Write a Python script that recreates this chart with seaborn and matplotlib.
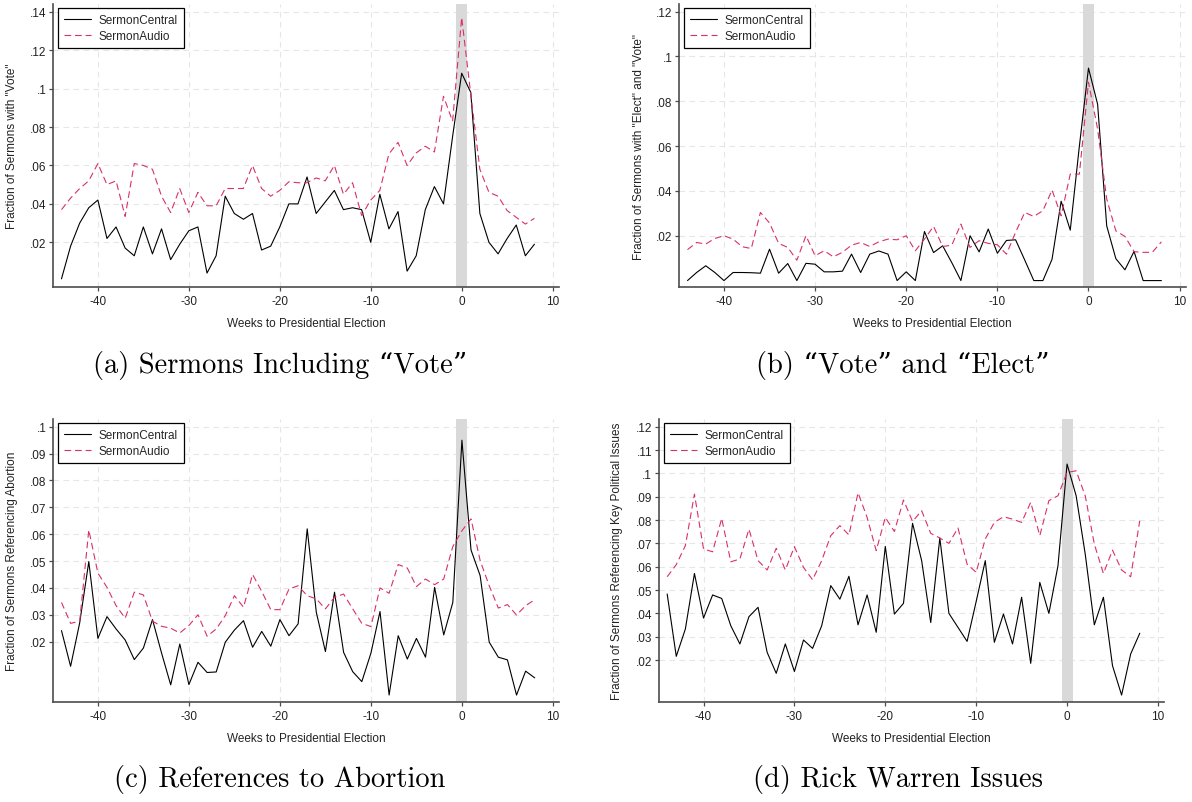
import matplotlib
matplotlib.use("Agg")
import matplotlib.pyplot as plt
import seaborn as sns
import numpy as np
import pandas as pd

# ---------------- data ----------------
weeks = [-44, -43, -42, -41, -40, -39, -38, -37, -36, -35, -34, -33, -32, -31, -30,
         -29, -28, -27, -26, -25, -24, -23, -22, -21, -20, -19, -18, -17, -16, -15,
         -14, -13, -12, -11, -10, -9, -8, -7, -6, -5, -4, -3, -2, -1, 0, 1, 2, 3,
         4, 5, 6, 7, 8]

vote_central = [0.001, 0.018, 0.030, 0.038, 0.042, 0.022, 0.028, 0.017, 0.013, 0.028,
                0.014, 0.027, 0.011, 0.019, 0.026, 0.028, 0.004, 0.013, 0.044, 0.035,
                0.032, 0.035, 0.016, 0.018, 0.028, 0.040, 0.040, 0.054, 0.035, 0.041,
                0.047, 0.037, 0.038, 0.037, 0.020, 0.045, 0.027, 0.036, 0.005, 0.013,
                0.037, 0.049, 0.040, 0.075, 0.108, 0.098, 0.035, 0.020, 0.014, 0.022,
                0.029, 0.013, 0.019]
vote_audio = [0.037, 0.043, 0.048, 0.052, 0.061, 0.050, 0.052, 0.0335, 0.061, 0.060,
              0.058, 0.044, 0.0355, 0.048, 0.0355, 0.046, 0.039, 0.039, 0.048, 0.048,
              0.048, 0.060, 0.048, 0.044, 0.047, 0.0515, 0.051, 0.051, 0.0535, 0.052,
              0.060, 0.045, 0.051, 0.034, 0.042, 0.047, 0.066, 0.072, 0.060, 0.0665,
              0.070, 0.067, 0.096, 0.083, 0.137, 0.097, 0.058, 0.046, 0.044, 0.0365,
              0.033, 0.0295, 0.0325]

elect_central = [0.0, 0.0036, 0.0066, 0.0036, 0.0, 0.0036, 0.0036, 0.0035, 0.0033, 0.014,
                 0.0033, 0.0076, 0.0, 0.0077, 0.0073, 0.0039, 0.0039, 0.0042, 0.0118, 0.0036,
                 0.0118, 0.0132, 0.0118, 0.0, 0.0039, 0.0, 0.0219, 0.0125, 0.0155, 0.008,
                 0.0, 0.020, 0.0128, 0.023, 0.0122, 0.0179, 0.0182, 0.0092, 0.0, 0.0,
                 0.0095, 0.0354, 0.0225, 0.060, 0.0948, 0.0787, 0.0244, 0.0098, 0.0048, 0.013,
                 0.0, 0.0, 0.0]
elect_audio = [0.0138, 0.017, 0.0163, 0.0188, 0.020, 0.0185, 0.0151, 0.0143, 0.0304, 0.0257,
               0.0166, 0.0148, 0.0091, 0.020, 0.0111, 0.0133, 0.0106, 0.0126, 0.0158, 0.017,
               0.0152, 0.0173, 0.0185, 0.0182, 0.020, 0.0133, 0.0185, 0.0242, 0.0152, 0.0158,
               0.0252, 0.0148, 0.0178, 0.0166, 0.016, 0.0118, 0.0215, 0.0304, 0.0286, 0.0312,
               0.0404, 0.0289, 0.0475, 0.0475, 0.0885, 0.0676, 0.0364, 0.0222, 0.0197, 0.0129,
               0.0126, 0.0126, 0.0173]

abortion_central = [0.0241, 0.0108, 0.027, 0.0498, 0.0212, 0.0293, 0.0247, 0.0206, 0.0133, 0.0176,
                    0.0282, 0.0157, 0.0039, 0.0191, 0.004, 0.0123, 0.0085, 0.0087, 0.0198, 0.0243,
                    0.0278, 0.0179, 0.0238, 0.0183, 0.0282, 0.0222, 0.0266, 0.062, 0.0309, 0.0163,
                    0.0384, 0.016, 0.0088, 0.0051, 0.0157, 0.0312, 0.0001, 0.0222, 0.0135, 0.0212,
                    0.0142, 0.0402, 0.0225, 0.0346, 0.095, 0.0541, 0.0446, 0.0198, 0.0142, 0.0132,
                    0.0001, 0.009, 0.0065]
abortion_audio = [0.0346, 0.0268, 0.0276, 0.0616, 0.0455, 0.0402, 0.0334, 0.0287, 0.0384, 0.0374,
                  0.0276, 0.0257, 0.025, 0.0232, 0.026, 0.030, 0.022, 0.0247, 0.0297, 0.0371,
                  0.0328, 0.045, 0.0387, 0.0319, 0.0319, 0.0396, 0.0408, 0.0371, 0.0359, 0.0322,
                  0.0365, 0.0377, 0.0322, 0.0268, 0.0256, 0.040, 0.038, 0.0487, 0.0474, 0.0405,
                  0.0433, 0.0412, 0.0433, 0.0554, 0.0613, 0.0657, 0.0502, 0.0408, 0.0325, 0.0338,
                  0.0299, 0.0334, 0.0356]

warren_central = [0.0483, 0.0216, 0.0333, 0.0571, 0.038, 0.0479, 0.0464, 0.0347, 0.0269, 0.0386,
                  0.0426, 0.0233, 0.0143, 0.0269, 0.0151, 0.0286, 0.025, 0.0347, 0.0519, 0.0461,
                  0.0559, 0.0351, 0.0479, 0.0319, 0.0687, 0.0397, 0.0443, 0.0786, 0.0626, 0.0361,
                  0.0723, 0.040, 0.034, 0.028, 0.0451, 0.0626, 0.0276, 0.0397, 0.0269, 0.0469,
                  0.0186, 0.0533, 0.040, 0.0604, 0.104, 0.0904, 0.0654, 0.0351, 0.0469, 0.0176,
                  0.005, 0.0226, 0.0315]
warren_audio = [0.0557, 0.0609, 0.069, 0.0911, 0.0676, 0.0664, 0.0807, 0.0621, 0.0633, 0.0761,
                0.0626, 0.0586, 0.0679, 0.0586, 0.0686, 0.0597, 0.0544, 0.0626, 0.0733, 0.0776,
                0.0736, 0.0917, 0.0811, 0.0669, 0.0811, 0.0751, 0.0886, 0.0794, 0.084, 0.0743,
                0.0723, 0.070, 0.0766, 0.0611, 0.0576, 0.0719, 0.079, 0.0814, 0.0804, 0.079,
                0.0876, 0.0733, 0.0883, 0.0904, 0.1004, 0.1011, 0.0904, 0.0697, 0.0571, 0.0671,
                0.0586, 0.0557, 0.0797]

series_names = ["SermonCentral", "SermonAudio"]
x_ticks = [-40, -30, -20, -10, 0, 10]
x_label = "Weeks to Presidential Election"

ylabels = ['Fraction of Sermons with "Vote"',
           'Fraction of Sermons with "Elect" and "Vote"',
           'Fraction of Sermons Referencing Abortion',
           'Fraction of Sermons Referencing Key Political Issues']
captions = ["(a) Sermons Including \u201cVote\u201d",
            "(b) \u201cVote\u201d and \u201cElect\u201d",
            "(c) References to Abortion",
            "(d) Rick Warren Issues"]
y_ticks = [[0.02, 0.04, 0.06, 0.08, 0.10, 0.12, 0.14],
           [0.02, 0.04, 0.06, 0.08, 0.10, 0.12],
           [0.02, 0.03, 0.04, 0.05, 0.06, 0.07, 0.08, 0.09, 0.10],
           [0.02, 0.03, 0.04, 0.05, 0.06, 0.07, 0.08, 0.09, 0.10, 0.11, 0.12]]
panels = [(vote_central, vote_audio), (elect_central, elect_audio),
          (abortion_central, abortion_audio), (warren_central, warren_audio)]

# ---------------- layout / style ----------------
W, H = 1192, 803
# axes boxes in pixels: left, right, top, bottom
boxes = [(53.3, 559.0, 5.0, 288.3),
         (679.3, 1186.0, 5.0, 288.3),
         (53.3, 559.3, 420.0, 703.3),
         (659.0, 1164.3, 420.0, 703.3)]
ylims = [(-0.0034, 0.1440), (-0.0030, 0.1234), (-0.0026, 0.1029), (0.0019, 0.1233)]
ylabel_x = [-0.0692, -0.0677, -0.0692, -0.0713]
caption_pos = [(280, 365), (903, 365), (280, 780), (898, 780)]

sns.set_theme(style="white")
plt.rcParams["font.family"] = ["Liberation Sans", "DejaVu Sans"]

axis_col = "#4d4d4d"
audio_col = "#d8306b"
grid_col = "#e6e6e6"
fs = 8.5

fig = plt.figure(figsize=(W / 100, H / 100), dpi=100)
fig.patch.set_facecolor("white")


def fmt(v):
    s = f"{v:.2f}".rstrip("0")
    if s.startswith("0"):
        s = s[1:]
    return s


for i, ((central, audio), box) in enumerate(zip(panels, boxes)):
    l, r, t, b = box
    ax = fig.add_axes([l / W, 1 - b / H, (r - l) / W, (b - t) / H])
    ax.set_facecolor("white")
    df = pd.DataFrame({"week": weeks, "central": central, "audio": audio})

    ax.axvspan(-0.6, 0.6, color="#d9d9d9", lw=0, zorder=1.5)
    sns.lineplot(data=df, x="week", y="central", ax=ax, color="black", lw=0.8,
                 label=series_names[0], zorder=3)
    sns.lineplot(data=df, x="week", y="audio", ax=ax, color=audio_col, lw=0.8,
                 linestyle=(0, (6, 3.5)), label=series_names[1], zorder=3)

    ax.set_xlim(-44.9, 10.7)
    ax.set_ylim(*ylims[i])
    ax.set_xticks(x_ticks)
    ax.set_xticklabels([str(v) for v in x_ticks])
    ax.set_yticks(y_ticks[i])
    ax.set_yticklabels([fmt(v) for v in y_ticks[i]])

    ax.grid(True, color=grid_col, lw=0.8, linestyle=(0, (5, 4)), zorder=0)
    ax.set_axisbelow(True)
    for sp in ["top", "right"]:
        ax.spines[sp].set_visible(False)
    for sp in ["left", "bottom"]:
        ax.spines[sp].set_color(axis_col)
        ax.spines[sp].set_linewidth(1.2)
    ax.tick_params(axis="both", which="major", direction="out", length=3,
                   width=0.9, color=axis_col, labelsize=fs, labelcolor="#222222",
                   bottom=True, left=True)
    ax.tick_params(axis="x", pad=2.5)
    ax.tick_params(axis="y", pad=2.0)

    ax.set_xlabel(x_label, fontsize=fs, color="#222222")
    ax.set_ylabel(ylabels[i], fontsize=fs, color="#222222")
    ax.xaxis.set_label_coords(0.5, -0.104)
    ax.yaxis.set_label_coords(ylabel_x[i], 0.5)

    leg = ax.legend(loc="upper left", bbox_to_anchor=(0.0099, 0.985),
                    borderaxespad=0, fontsize=fs, frameon=True, fancybox=False,
                    handlelength=2.3, handletextpad=0.64, labelspacing=0.3,
                    borderpad=0.5)
    leg.get_frame().set_edgecolor("black")
    leg.get_frame().set_linewidth(0.9)
    leg.get_frame().set_facecolor("white")
    leg.get_frame().set_alpha(1)

for cap, (cx, cy) in zip(captions, caption_pos):
    fig.text(cx / W, 1 - cy / H, cap, ha="center", va="center",
             fontsize=20.5, family=["cmr10", "DejaVu Serif"], color="black")

fig.savefig("out.png", dpi=100, facecolor="white")
